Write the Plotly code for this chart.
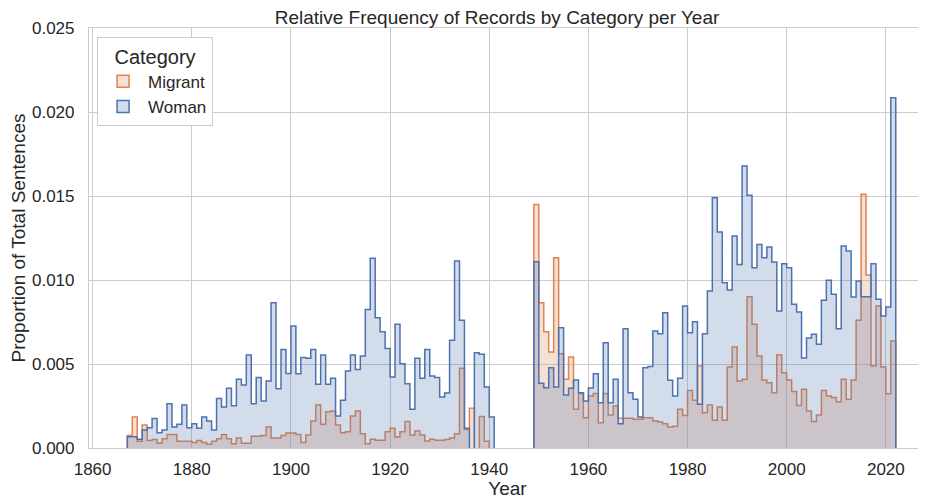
import plotly.graph_objects as go

# Yearly bins (left edge of each one-year bin); None = empty bin
years = list(range(1867, 2022))

woman = [
    0.00067, 0.00067, 0.00052, 0.00107, 0.00121, 0.00175, 0.00091, 0.00107, 0.00264, 0.00125,  # 1867-1876
    0.00141, 0.00256, 0.00121, 0.00145, 0.00117, 0.00185, 0.00161, 0.00107, 0.00294, 0.00244,  # 1877-1886
    0.00355, 0.00252, 0.00409, 0.00375, 0.00554, 0.00264, 0.00419, 0.00280, 0.00399, 0.00865,  # 1887-1896
    0.00353, 0.00587, 0.00444, 0.00726, 0.00442, 0.00538, 0.00534, 0.00587, 0.00379, 0.00554,  # 1897-1906
    0.00379, 0.00415, 0.00190, 0.00284, 0.00458, 0.00554, 0.00468, 0.00548, 0.00825, 0.01129,  # 1907-1916
    0.00776, 0.00692, 0.00593, 0.00423, 0.00736, 0.00502, 0.00383, 0.00230, 0.00534, 0.00415,  # 1917-1926
    0.00587, 0.00429, 0.00420, 0.00304, 0.00327, 0.00641, 0.01113, 0.00760, 0.00117, None,     # 1927-1936
    0.00567, 0.00558, 0.00363, 0.00185, None, None, None, None, None, None,                    # 1937-1946
    None, None, 0.01109, 0.00385, 0.00359, 0.00478, 0.00363, 0.00716, 0.00315, 0.00355,        # 1947-1956
    0.00405, 0.00329, 0.00280, 0.00357, 0.00442, 0.00270, 0.00627, 0.00270, 0.00409, 0.00145,  # 1957-1966
    0.00710, 0.00329, 0.00290, 0.00185, 0.00478, 0.00485, 0.00696, 0.00680, 0.00805, 0.00403,  # 1967-1976
    0.00310, 0.00415, 0.00845, 0.00686, 0.00752, 0.00260, 0.00680, 0.00935, 0.01490, 0.01286,  # 1977-1986
    0.00984, 0.00940, 0.01262, 0.01093, 0.01679, 0.01504, 0.01073, 0.01212, 0.01133, 0.01196,  # 1987-1996
    0.01107, 0.00815, 0.01097, 0.01073, 0.00855, 0.00810, 0.00536, 0.00655, 0.00677, 0.00617,  # 1997-2006
    0.00879, 0.00998, 0.00915, 0.00710, 0.01202, 0.01173, 0.00899, 0.00994, 0.00900, 0.00900,  # 2007-2016
    0.01097, 0.00885, 0.00786, 0.00839, 0.02085,                                               # 2017-2021
]

migrant = [
    0.00075, 0.00185, 0.00040, 0.00137, 0.00045, 0.00050, 0.00028, 0.00055, 0.00080, 0.00080,  # 1867-1876
    0.00040, 0.00040, 0.00040, 0.00033, 0.00045, 0.00033, 0.00022, 0.00040, 0.00055, 0.00080,  # 1877-1886
    0.00055, 0.00025, 0.00060, 0.00028, 0.00028, 0.00070, 0.00070, 0.00075, 0.00125, 0.00060,  # 1887-1896
    0.00060, 0.00075, 0.00090, 0.00090, 0.00081, 0.00032, 0.00077, 0.00161, 0.00256, 0.00141,  # 1897-1906
    0.00216, 0.00220, 0.00137, 0.00091, 0.00097, 0.00190, 0.00220, 0.00085, 0.00026, 0.00052,  # 1907-1916
    0.00046, 0.00046, 0.00097, 0.00117, 0.00065, 0.00097, 0.00157, 0.00077, 0.00101, 0.00077,  # 1917-1926
    0.00042, 0.00052, 0.00046, 0.00046, 0.00050, 0.00060, 0.00085, 0.00474, 0.00110, 0.00236,  # 1927-1936
    None, 0.00187, 0.00040, None, None, None, None, None, None, None,                          # 1937-1946
    None, None, 0.01450, 0.00865, 0.00692, 0.00571, 0.01133, 0.00561, 0.00409, 0.00542,        # 1947-1956
    0.00230, 0.00325, 0.00180, 0.00310, 0.00325, 0.00151, 0.00325, 0.00196, 0.00250, 0.00177,  # 1957-1966
    0.00177, 0.00177, 0.00171, 0.00171, 0.00180, 0.00180, 0.00161, 0.00155, 0.00145, 0.00125,  # 1967-1976
    0.00130, 0.00230, 0.00193, 0.00343, 0.00284, 0.00488, 0.00210, 0.00256, 0.00165, 0.00244,  # 1977-1986
    0.00165, 0.00482, 0.00601, 0.00399, 0.00409, 0.00901, 0.00736, 0.00548, 0.00405, 0.00389,  # 1987-1996
    0.00329, 0.00554, 0.00448, 0.00405, 0.00337, 0.00253, 0.00350, 0.00220, 0.00157, 0.00196,  # 1997-2006
    0.00343, 0.00310, 0.00300, 0.00276, 0.00409, 0.00290, 0.00405, 0.00760, 0.01510, 0.01030,  # 2007-2016
    0.00488, 0.00845, 0.00482, 0.00323, 0.00637,                                               # 2017-2021
]

x_ticks = [1860, 1880, 1900, 1920, 1940, 1960, 1980, 2000, 2020]
y_ticks = [0.0, 0.005, 0.010, 0.015, 0.020, 0.025]

FONT = "Liberation Sans, Arial, sans-serif"
TEXT = "#262626"
GRID = "#cccccc"

# the page body has an 8px margin, so the figure is 8px smaller on each axis
W, H = 918, 493


def step_outline(edges, values):
    """Closed step polygons (one per run of non-empty bins)."""
    xs, ys = [], []
    prev = None
    for edge, v in zip(edges, values):
        if v is None:
            if prev is not None:
                xs += [edge, edge, None]
                ys += [prev, 0, None]
                prev = None
            continue
        if prev is None:
            xs.append(edge)
            ys.append(0)
        xs.append(edge)
        ys.append(v)
        prev = v
    if prev is not None:
        end = edges[-1] + 1
        xs += [end, end]
        ys += [prev, 0]
    return xs, ys


fig = go.Figure()

series = [
    ("Migrant", migrant, "#dd8452", "rgba(221,132,82,0.25)"),
    ("Woman", woman, "#4c72b0", "rgba(76,114,176,0.25)"),
]
for name, vals, line_col, fill_col in series:
    sx, sy = step_outline(years, vals)
    fig.add_trace(go.Scatter(
        x=sx, y=sy, name=name, mode="lines",
        line=dict(color=line_col, width=1.5, shape="hv"),
        fill="toself", fillcolor=fill_col,
        hoverinfo="skip", showlegend=False,
    ))
    # legend swatch: outlined rectangle like the reference
    fig.add_trace(go.Bar(
        x=[None], y=[None], name=name,
        marker=dict(color=fill_col, line=dict(color=line_col, width=1.5)),
        hoverinfo="skip",
    ))

fig.update_layout(
    width=W, height=H,
    margin=dict(l=81, r=0, t=20, b=53, autoexpand=False),
    paper_bgcolor="white", plot_bgcolor="white",
    font=dict(family=FONT, size=17, color=TEXT),
    title=dict(text="Relative Frequency of Records by Category per Year",
               x=489 / W, xref="container", xanchor="center",
               y=1 - 9.5 / H, yref="container", yanchor="middle",
               font=dict(size=19, color=TEXT)),
    legend=dict(x=0.0096, y=0.979, xanchor="left", yanchor="top",
                bgcolor="white", bordercolor=GRID, borderwidth=1,
                title=dict(text="Category", font=dict(size=20), side="top center"),
                font=dict(size=17), traceorder="normal", itemwidth=40,
                tracegroupgap=0),
    showlegend=True,
)

fig.update_xaxes(
    range=[1859.27, 2028.1], tickvals=x_ticks, automargin=False,
    showgrid=True, gridcolor=GRID, gridwidth=1,
    showline=True, linecolor=GRID, linewidth=1.2, mirror=True,
    zeroline=False, ticks="outside", ticklen=5, tickcolor="rgba(0,0,0,0)",
    tickfont=dict(size=17, color=TEXT),
    title=dict(text="Year", font=dict(size=19, color=TEXT), standoff=3),
)
fig.update_yaxes(
    range=[0, 0.025], tickvals=y_ticks, tickformat=".3f", automargin=False,
    showgrid=True, gridcolor=GRID, gridwidth=1,
    showline=True, linecolor=GRID, linewidth=1.2,
    zeroline=False, ticks="outside", ticklen=10, tickcolor="rgba(0,0,0,0)",
    tickfont=dict(size=17, color=TEXT),
    title=dict(text="Proportion of Total Sentences", font=dict(size=19, color=TEXT), standoff=6),
)

fig.write_html("out.html")
